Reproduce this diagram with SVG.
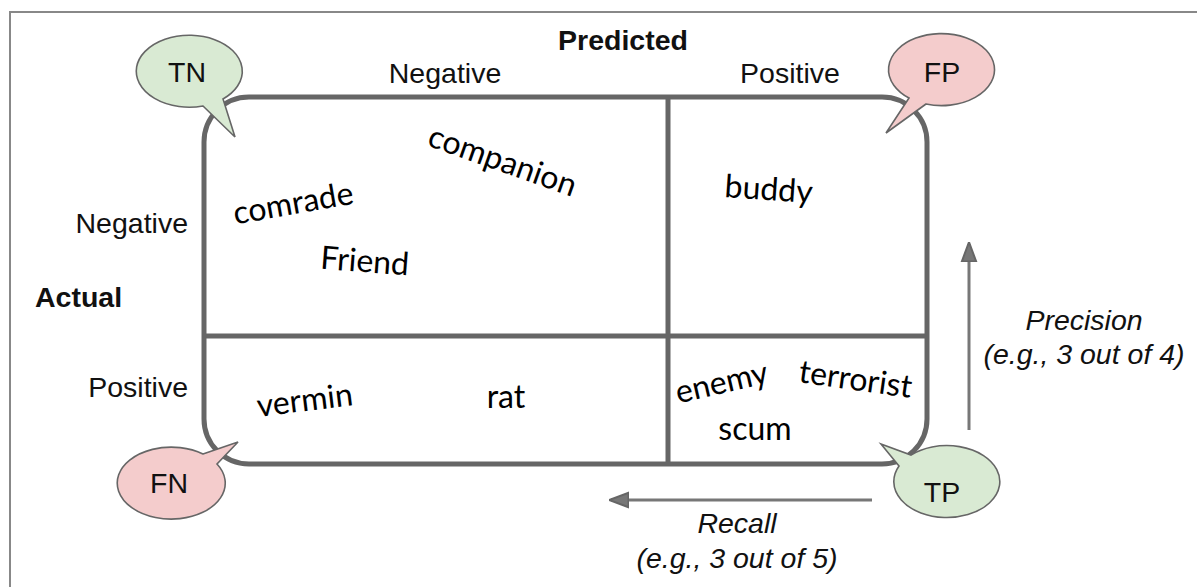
<svg xmlns="http://www.w3.org/2000/svg" width="1197" height="587" viewBox="0 0 1197 587">
  <defs>
    <marker id="head" viewBox="0 0 10 10" refX="9" refY="5" markerWidth="6.5" markerHeight="6.5" markerUnits="strokeWidth" orient="auto">
      <path d="M0,1.3 L10,5 L0,8.7 Z" fill="#777" stroke="#666" stroke-width="1"/>
    </marker>
    <style>
      .frame { fill: none; stroke: #888; stroke-width: 2; }
      .grid { fill: none; stroke: #666; stroke-width: 5; }
      .bubble { stroke: #666; stroke-width: 1.6; }
      .good { fill: #d9ead3; }
      .bad { fill: #f4cccc; }
      .arrow { fill: none; stroke: #777; stroke-width: 3; }
      .lbl { font-family: "Liberation Sans", Arial, sans-serif; font-size: 28.5px; fill: #111; }
      .bold { font-weight: bold; }
      .ital { font-style: italic; }
      .mid { text-anchor: middle; }
      .end { text-anchor: end; }
      .word { font-family: Lato, "Open Sans", sans-serif; font-size: 32px; fill: #000; text-anchor: middle; }
    </style>
  </defs>

  <rect width="1197" height="587" fill="#fff"/>
  <polyline class="frame" points="10,587 10,12 1197,12"/>

  <!-- axis labels -->
  <g id="axes">
    <text class="lbl bold mid" x="623" y="50">Predicted</text>
    <text class="lbl mid" x="445" y="83">Negative</text>
    <text class="lbl mid" x="790" y="83">Positive</text>
    <text class="lbl end" x="188" y="233">Negative</text>
    <text class="lbl bold" x="35" y="307">Actual</text>
    <text class="lbl end" x="188" y="397">Positive</text>
  </g>

  <!-- confusion matrix grid -->
  <g id="matrix">
    <rect class="grid" x="204" y="97" width="723" height="367" rx="45" ry="45"/>
    <line class="grid" x1="668" y1="97" x2="668" y2="464"/>
    <line class="grid" x1="204" y1="336" x2="927" y2="336"/>
  </g>

  <!-- words in each cell -->
  <g id="cell-tn">
    <text class="word" transform="translate(499,171) rotate(19.5)">companion</text>
    <text class="word" transform="translate(295,214) rotate(-10)">comrade</text>
    <text class="word" transform="translate(364,272) rotate(4.4)">Friend</text>
  </g>
  <g id="cell-fp">
    <text class="word" transform="translate(768,200) rotate(4)">buddy</text>
  </g>
  <g id="cell-fn">
    <text class="word" transform="translate(306,411) rotate(-7)">vermin</text>
    <text class="word" x="506" y="408">rat</text>
  </g>
  <g id="cell-tp">
    <text class="word" transform="translate(724,393) rotate(-13)">enemy</text>
    <text class="word" transform="translate(854,390) rotate(8)">terrorist</text>
    <text class="word" x="755" y="440">scum</text>
  </g>

  <!-- speech bubbles -->
  <g id="TN">
    <path class="bubble good" d="M203,106 L235,137 L223,99 A53,36 0 1,0 203,106 Z"/>
    <text class="lbl mid" x="187" y="82">TN</text>
  </g>
  <g id="FP">
    <path class="bubble bad" d="M926,104 L886,133 L909,98 A53,36 0 1,1 926,104 Z"/>
    <text class="lbl mid" x="942" y="82">FP</text>
  </g>
  <g id="FN">
    <path class="bubble bad" d="M203,454 L238,442 L217,464 A54,36 0 1,1 203,454 Z"/>
    <text class="lbl mid" x="169" y="493">FN</text>
  </g>
  <g id="TP">
    <path class="bubble good" d="M899,466 L881,444 L911,455 A53,36 0 1,1 899,466 Z"/>
    <text class="lbl mid" x="942" y="502">TP</text>
  </g>

  <!-- precision / recall arrows -->
  <g id="connectors">
    <line class="arrow" x1="969" y1="430" x2="969" y2="244" marker-end="url(#head)"/>
    <line class="arrow" x1="872" y1="500" x2="611" y2="500" marker-end="url(#head)"/>
  </g>
  <g id="precision">
    <text class="lbl ital mid" x="1084" y="330">Precision</text>
    <text class="lbl ital mid" x="1084" y="364">(e.g., 3 out of 4)</text>
  </g>
  <g id="recall">
    <text class="lbl ital mid" x="737" y="533">Recall</text>
    <text class="lbl ital mid" x="737" y="568">(e.g., 3 out of 5)</text>
  </g>
</svg>
